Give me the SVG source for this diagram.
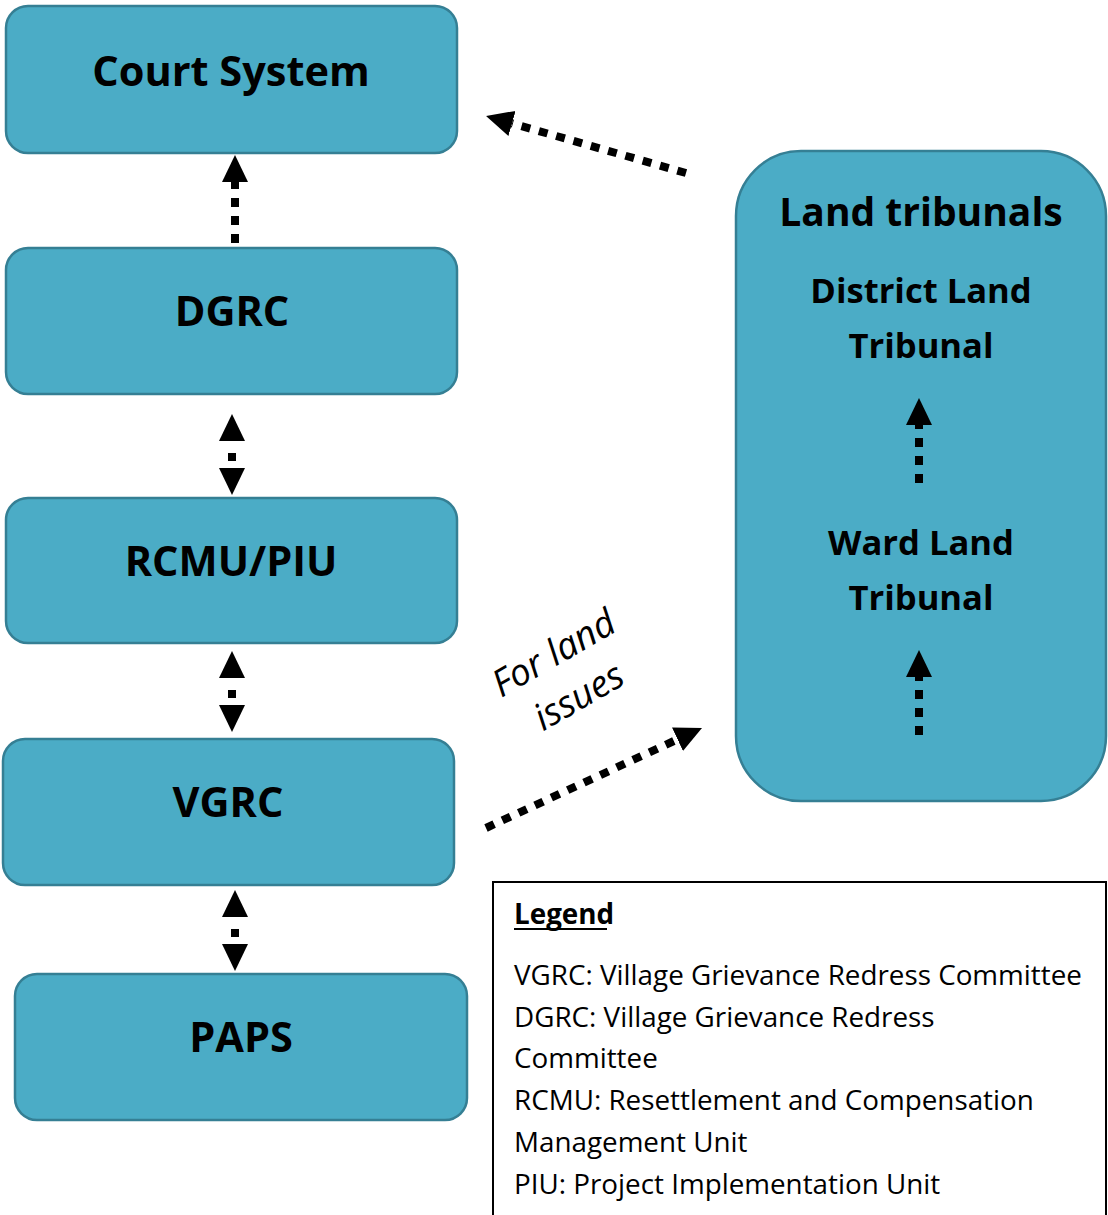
<svg xmlns="http://www.w3.org/2000/svg" width="1108" height="1215" viewBox="0 0 1108 1215">
<style>
.box{fill:#4BACC6;stroke:#357F94;stroke-width:2.5}
.t{font-family:"Open Sans","Noto Sans",sans-serif;font-weight:bold;fill:#000;text-anchor:middle}
.lg{font-family:"Open Sans","Noto Sans",sans-serif;font-size:27.8px;fill:#000}
.dl{fill:none;stroke:#000;stroke-width:8;stroke-dasharray:9 9}
.dd{fill:none;stroke:#000;stroke-width:8;stroke-dasharray:8 40;stroke-dashoffset:-12}
</style>
<defs>
<marker id="ah" markerUnits="userSpaceOnUse" viewBox="0 0 28 28" refX="0" refY="13" markerWidth="28" markerHeight="28" orient="auto-start-reverse">
<path d="M0,0 L27,13 L0,26 z" fill="#000"/>
</marker>
</defs>
<rect width="1108" height="1215" fill="#fff"/>
<g id="court"><rect class="box" x="6" y="6" width="451" height="147" rx="22"/><text class="t" x="231" y="86" font-size="41.5">Court System</text></g>
<g id="dgrc"><rect class="box" x="6" y="248" width="451" height="146" rx="22"/><text class="t" x="232" y="326" font-size="41.5">DGRC</text></g>
<g id="rcmu"><rect class="box" x="6" y="498" width="451" height="145" rx="22"/><text class="t" x="231" y="576" font-size="41.5">RCMU/PIU</text></g>
<g id="vgrc"><rect class="box" x="3" y="739" width="451" height="146" rx="22"/><text class="t" x="228" y="817" font-size="41.5">VGRC</text></g>
<g id="paps"><rect class="box" x="15" y="974" width="452" height="146" rx="22"/><text class="t" x="241" y="1052" font-size="41.5">PAPS</text></g>
<g id="land">
<rect class="box" x="736" y="151" width="370" height="650" rx="65"/>
<text class="t" x="921" y="226" font-size="39">Land tribunals</text>
<text class="t" x="921" y="303" font-size="34.6">District Land</text>
<text class="t" x="921" y="358" font-size="34.6">Tribunal</text>
<text class="t" x="921" y="555" font-size="34.6">Ward Land</text>
<text class="t" x="921" y="610" font-size="34.6">Tribunal</text>
</g>
<g id="legend">
<rect x="493" y="882" width="613" height="340" fill="#fff" stroke="#000" stroke-width="2"/>
<text class="lg" x="514" y="924" font-weight="bold" font-size="26">Legend</text>
<line x1="514" y1="929" x2="607" y2="929" stroke="#000" stroke-width="2"/>
<text class="lg" x="514" y="985">VGRC: Village Grievance Redress Committee</text>
<text class="lg" x="514" y="1027">DGRC: Village Grievance Redress</text>
<text class="lg" x="514" y="1068">Committee</text>
<text class="lg" x="514" y="1110">RCMU: Resettlement and Compensation</text>
<text class="lg" x="514" y="1152">Management Unit</text>
<text class="lg" x="514" y="1194">PIU: Project Implementation Unit</text>
</g>
<text id="landlabel" font-family="'Open Sans','Noto Sans',sans-serif" font-style="italic" font-size="37" text-anchor="middle" transform="translate(560,664) rotate(-30)"><tspan x="0" y="0">For land</tspan><tspan x="0" y="50">issues</tspan></text>
<g id="connectors">
<line class="dl" x1="235" y1="243" x2="235" y2="182" marker-end="url(#ah)"/>
<line class="dd" x1="232" y1="441" x2="232" y2="468" marker-start="url(#ah)" marker-end="url(#ah)"/>
<line class="dd" x1="232" y1="678" x2="232" y2="705" marker-start="url(#ah)" marker-end="url(#ah)"/>
<line class="dd" x1="235" y1="917" x2="235" y2="944" marker-start="url(#ah)" marker-end="url(#ah)"/>
<line class="dl" x1="686" y1="173" x2="512" y2="123.4" marker-end="url(#ah)"/>
<line class="dl" x1="486" y1="828" x2="677.5" y2="739.3" marker-end="url(#ah)"/>
<line class="dl" x1="919" y1="483" x2="919" y2="425" marker-end="url(#ah)"/>
<line class="dl" x1="919" y1="735" x2="919" y2="677" marker-end="url(#ah)"/>
</g>
</svg>
